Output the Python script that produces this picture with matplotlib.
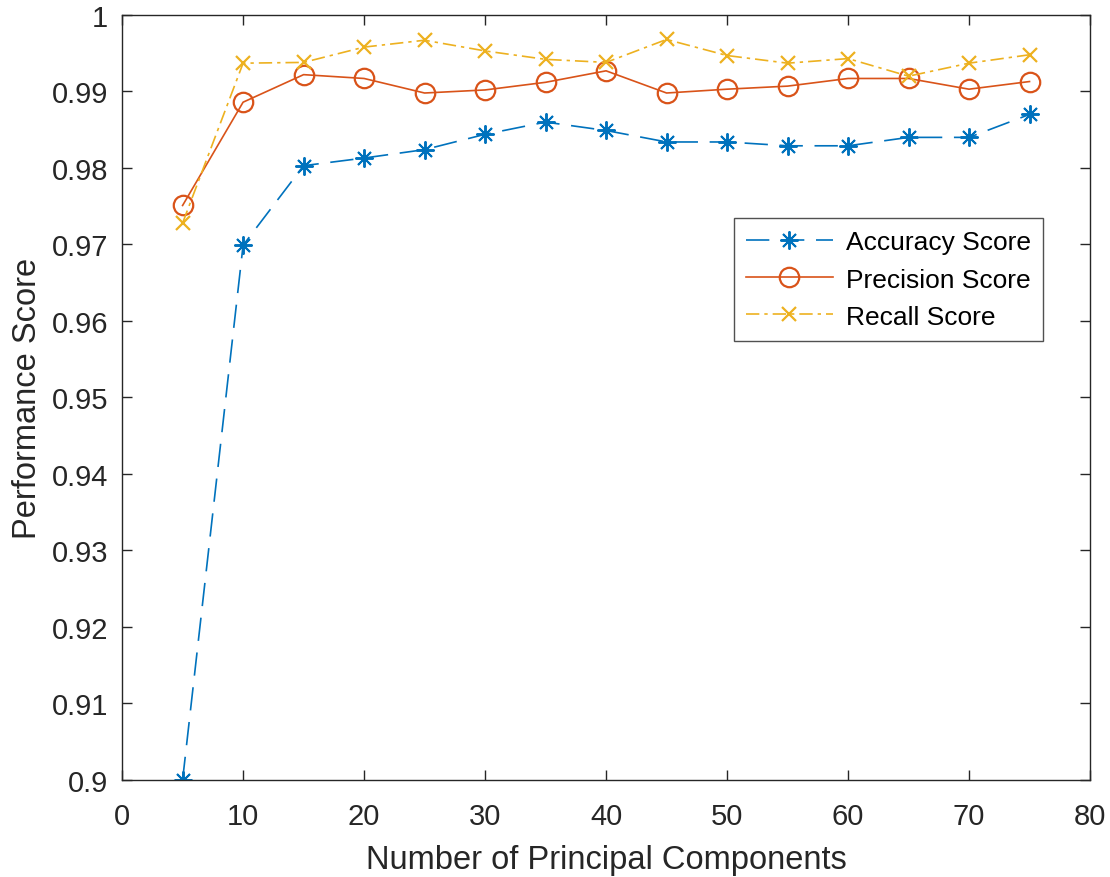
import numpy as np
import matplotlib
matplotlib.use("Agg")
import matplotlib.pyplot as plt

plt.rcParams['font.family'] = ['Liberation Sans', 'DejaVu Sans']

n_comp = [5, 10, 15, 20, 25, 30, 35, 40, 45, 50, 55, 60, 65, 70, 75]
accuracy = [0.9000, 0.9699, 0.9803, 0.9813, 0.9824, 0.9844, 0.9860, 0.9849,
            0.9834, 0.9834, 0.9829, 0.9829, 0.9840, 0.9840, 0.9870]
precision = [0.9751, 0.9886, 0.9922, 0.9917, 0.9898, 0.9902, 0.9912, 0.9927,
             0.9898, 0.9903, 0.9907, 0.9917, 0.9917, 0.9903, 0.9913]
recall = [0.9728, 0.9937, 0.9938, 0.9958, 0.9967, 0.9953, 0.9942, 0.9938,
          0.9968, 0.9947, 0.9937, 0.9943, 0.9920, 0.9937, 0.9948]

fig = plt.figure(figsize=(11.1, 8.78), dpi=100)
ax = fig.add_axes([0.110, 0.1105, 0.872, 0.8713])

ax.plot(n_comp, accuracy, color='#0072BD', linestyle=(0, (14, 7)), lw=1.2,
        marker=(8, 2, 0), ms=13, mew=1.4, label='Accuracy Score')
ax.plot(n_comp, precision, color='#D95319', linestyle='-', lw=1.2,
        marker='o', ms=14, mfc='none', mew=1.6, label='Precision Score')
ax.plot(n_comp, recall, color='#EDB120', linestyle=(0, (8, 3, 2, 3)), lw=1.2,
        marker='x', ms=10, mew=1.6, label='Recall Score')

ax.set_xlim(0, 80)
ax.set_ylim(0.9, 1.0)
ax.set_xticks(np.arange(0, 81, 10))
ax.set_yticks(np.arange(0.9, 1.0001, 0.01))
ax.set_yticklabels(['0.9', '0.91', '0.92', '0.93', '0.94', '0.95', '0.96',
                    '0.97', '0.98', '0.99', '1'])
ax.tick_params(direction='in', length=7, width=1, labelsize=21,
               colors='#262626', top=True, right=True)
ax.tick_params(axis='y', pad=10)
ax.tick_params(axis='x', pad=16)
for s in ax.spines.values():
    s.set_color('#262626')
    s.set_linewidth(1)

ax.set_xlabel('Number of Principal Components', fontsize=23.5, color='#262626',
              labelpad=10)
ax.set_ylabel('Performance Score', fontsize=23.5, color='#262626', labelpad=6)

leg = ax.legend(loc='upper left', bbox_to_anchor=(0.632, 0.734), fontsize=19,
                frameon=True, fancybox=False, edgecolor='#262626',
                handlelength=3.3, handletextpad=0.5, borderpad=0.45,
                labelspacing=0.5, borderaxespad=0)
leg.get_frame().set_linewidth(1)

fig.savefig('out.png', dpi=100)
